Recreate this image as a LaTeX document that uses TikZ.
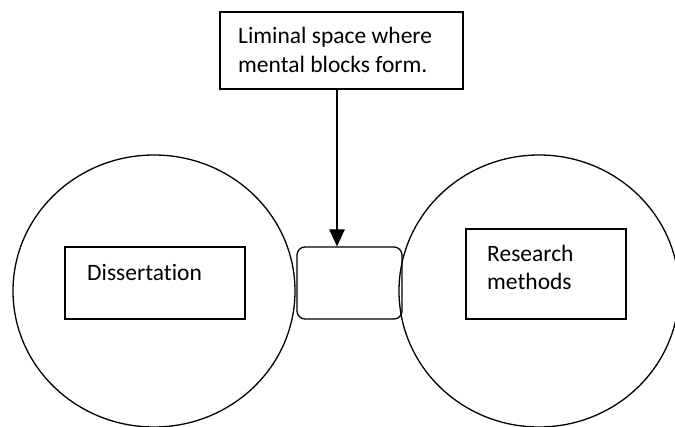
\documentclass[tikz,border=0pt]{standalone}
\usepackage{fontspec}
\setmainfont[Ligatures=NoCommon]{Carlito}
\usetikzlibrary{arrows.meta}
\begin{document}
\begin{tikzpicture}[x=1pt,y=-1pt,
  line/.style={line width=1.3pt},
  box/.style={draw,line width=1.3pt,inner sep=0pt,outer sep=0pt},
  label/.style={inner sep=0pt,anchor=base west,align=left,
    font=\fontsize{23.5}{28.5}\selectfont},
  pointer/.style={line width=1.3pt,-{Triangle[length=17pt,width=15.5pt]}}]
  \useasboundingbox (0,0) rectangle (675,427);
  \clip (0,0) rectangle (675,427);

  % the two subject areas
  \draw[line] (154,291) ellipse [x radius=141, y radius=136];
  \draw[line] (539,291) ellipse [x radius=140, y radius=136];

  % boxes
  \node[box,minimum width=243pt,minimum height=77pt] (liminal) at (341.5,50.5) {};
  \node[box,minimum width=180pt,minimum height=72pt] (diss) at (155,283) {};
  \node[box,minimum width=160pt,minimum height=90pt] (research) at (546,274) {};
  \node[draw,line width=1.3pt,rounded corners=8pt,inner sep=0pt,
        minimum width=105pt,minimum height=72pt] (gap) at (349.5,283) {};

  % labels (base anchor sits on the last line of a multi-line label)
  \node[label] (liminaltext) at (238,72.5) {Liminal space where\\mental blocks form.};
  \node[label] (disstext) at (87,280.7) {Dissertation};
  \node[label] (researchtext) at (487,290) {Research\\methods};

  % pointer into the gap
  \coordinate (ax) at (337,0);
  \draw[pointer] (ax |- liminal.south) -- (ax |- gap.north);
\end{tikzpicture}
\end{document}
